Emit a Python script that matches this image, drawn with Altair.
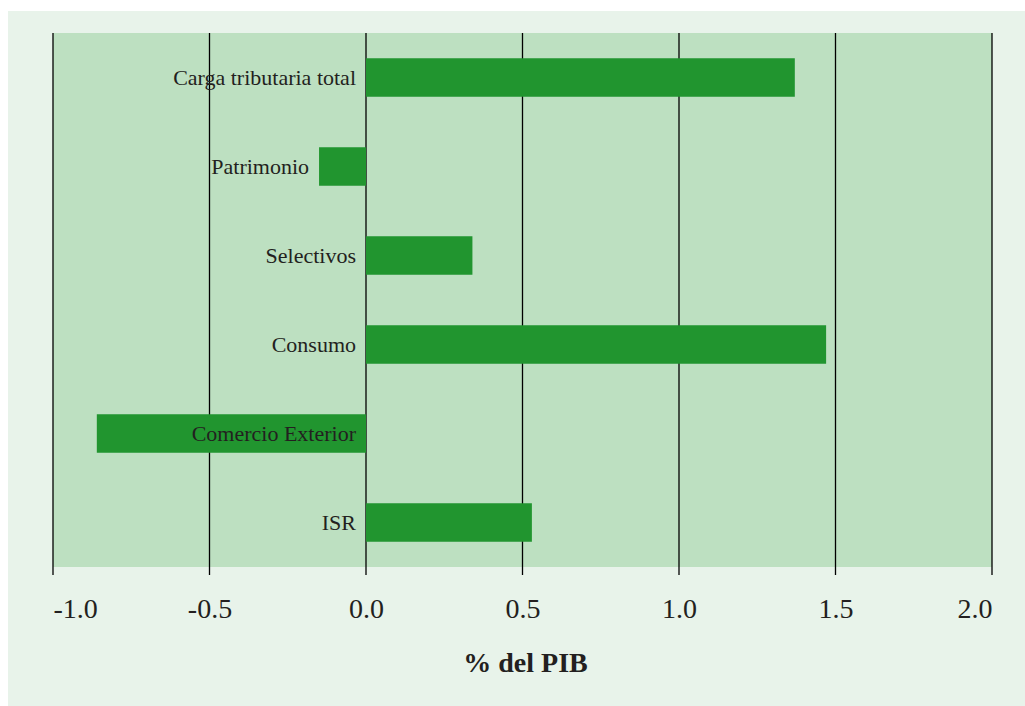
import altair as alt
import pandas as pd

# Change in tax revenue by category, percentage points of GDP
categories = [
    "Carga tributaria total",
    "Patrimonio",
    "Selectivos",
    "Consumo",
    "Comercio Exterior",
    "ISR",
]
values = [1.37, -0.15, 0.34, 1.47, -0.86, 0.53]
tick_values = [-1.0, -0.5, 0.0, 0.5, 1.0, 1.5, 2.0]

W, H = 939, 534
BAR_GREEN = "#21952f"
PLOT_GREEN = "#bde0c1"
FRAME_GREEN = "#e8f3ea"
INK = "#231f20"
SERIF = "Liberation Serif"

df = pd.DataFrame({"categoria": categories, "valor": values})
ticks_df = pd.DataFrame({"t": tick_values})
one = pd.DataFrame({"k": [0]})

x_scale = alt.Scale(domain=[-1.0, 2.0], nice=False, zero=False)
y_scale = alt.Scale(domain=categories, paddingInner=0.57, paddingOuter=0.285)

# labels and title only; drawn above the frame rectangle
x_axis = alt.Axis(
    values=tick_values, title="% del PIB",
    labelExpr="(datum.value < 0 ? '-' : '') + format(abs(datum.value), '.1f')",
    grid=False, ticks=False, domain=False, zindex=1,
    labelFont=SERIF, labelFontSize=28, labelColor=INK, labelPadding=28,
    titleFont=SERIF, titleFontSize=28, titleFontWeight="bold", titleColor=INK,
    titleBaseline="alphabetic", titleY=104, titleX=472,
)

# light frame around the whole figure
frame = alt.Chart(one).mark_rect(color=FRAME_GREEN).encode(
    x=alt.value(-45), x2=alt.value(W + 33),
    y=alt.value(-22), y2=alt.value(H + 139),
)

# plot panel
panel = alt.Chart(one).mark_rect(color=PLOT_GREEN).encode(
    x=alt.value(0), x2=alt.value(W),
    y=alt.value(0), y2=alt.value(H),
)

# vertical gridlines, running past the panel as tick marks
grid = alt.Chart(ticks_df).mark_rule(color="black", strokeWidth=1.3).encode(
    x=alt.X("t:Q", scale=x_scale, axis=x_axis),
    y=alt.value(0), y2=alt.value(H + 8),
)

bars = alt.Chart(df).mark_bar(color=BAR_GREEN).encode(
    x=alt.X("valor:Q", scale=x_scale, axis=x_axis),
    x2=alt.datum(0),
    y=alt.Y("categoria:N", scale=y_scale, axis=None, sort=categories),
)

# category names sit just left of zero, or left of a short negative bar
labels = alt.Chart(df).transform_calculate(
    anchor="datum.valor < 0 && datum.valor > -0.5 ? datum.valor : 0"
).mark_text(
    align="right", baseline="middle", dx=-10, font=SERIF, fontSize=22, color=INK
).encode(
    x=alt.X("anchor:Q", scale=x_scale, axis=x_axis),
    y=alt.Y("categoria:N", scale=y_scale, axis=None, sort=categories),
    text="categoria:N",
)

chart = alt.layer(frame, panel, grid, bars, labels).properties(
    width=W, height=H,
    autosize=alt.AutoSizeParams(type="none"),
    padding={"left": 53, "top": 33, "right": 33, "bottom": 139},
    background="white",
).configure_view(stroke=None, fill=None)

chart.save("out.html", embed_options={"renderer": "svg", "actions": False})
